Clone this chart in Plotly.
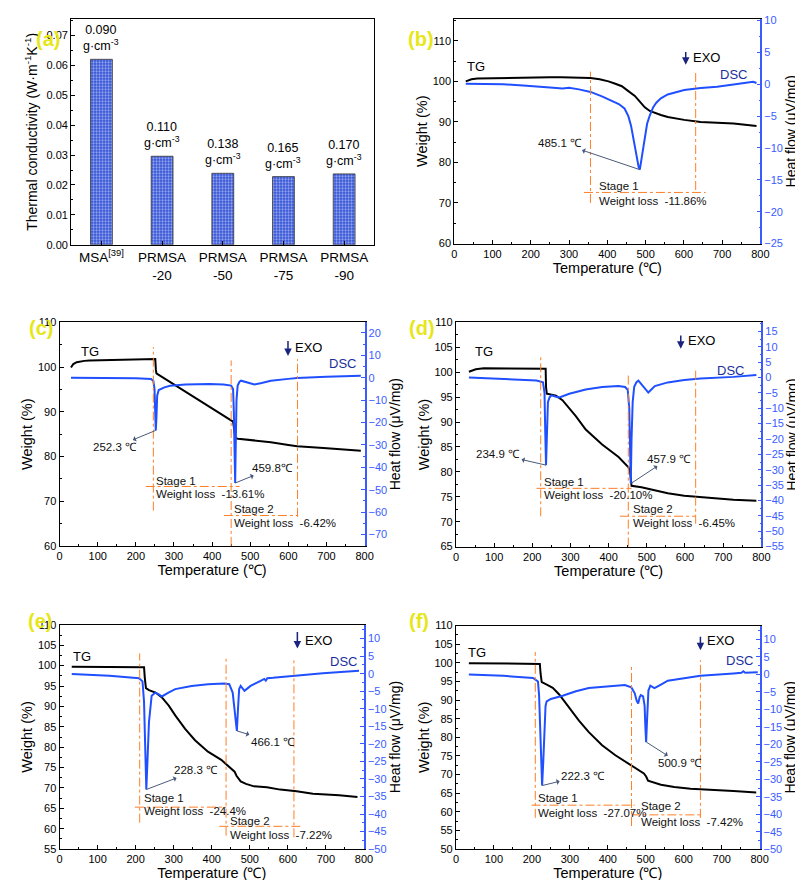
import plotly.graph_objects as go

FONT = "Liberation Sans, Arial, sans-serif"
BLUE = "#1f4fff"
AXBLUE = "#3a5cff"
ORANGE = "#ff7f27"
YELLOW = "#e6e619"
W_PX, H_PX = 803, 880

# ---------------- Panel (a) data ----------------
cats_a = ["MSA<sup>[39]</sup>", "PRMSA<br>-20", "PRMSA<br>-50", "PRMSA<br>-75", "PRMSA<br>-90"]
tc_a = [0.0620, 0.0296, 0.0239, 0.0228, 0.0237]
density_a = ["0.090", "0.110", "0.138", "0.165", "0.170"]

# ---------------- Panel (b) data ----------------
T_tg_b = [30, 45, 60, 100, 150, 200, 250, 280, 320, 356, 380, 403, 421, 438, 455, 472, 485, 498, 511, 524, 540, 558, 580, 601, 644, 690, 730, 760, 790]
W_tg_b = [100.0, 100.5, 100.7, 100.8, 100.8, 100.9, 101.0, 101.0, 100.9, 100.8, 100.5, 100.0, 99.4, 98.8, 97.6, 96.4, 95.0, 93.6, 92.7, 92.2, 91.7, 91.2, 90.8, 90.5, 90.0, 89.8, 89.6, 89.3, 89.0]
T_dsc_b = [30, 80, 129, 180, 215, 250, 283, 300, 326, 356, 386, 410, 430, 445, 455, 462, 468, 476, 482, 485, 489, 494, 498, 504, 511, 520, 528, 540, 558, 580, 601, 644, 687, 730, 760, 781, 790]
H_dsc_b = [0.1, 0.1, 0.0, -0.2, -0.3, -0.5, -0.65, -0.55, -0.8, -1.2, -1.9, -2.5, -3.1, -3.8, -5.0, -6.5, -8.5, -11.1, -13.0, -13.4, -11.8, -9.8, -8.0, -6.2, -4.9, -3.6, -2.9, -2.2, -1.6, -1.2, -0.9, -0.6, -0.4, -0.05, 0.2, 0.4, 0.2]
peakT_b = [485.1]
peakX_b = [485]
peakH_b = [-13.4]
stages_b = [356, 631]
loss_b = ["-11.86%"]

# ---------------- Panel (c) data ----------------
T_tg_c = [30, 36, 45, 53, 65, 79, 131, 200, 245, 251, 252.5, 254, 258, 280, 304, 338, 390, 433, 455, 458, 461, 468, 519, 554, 600, 623, 692, 740, 790]
W_tg_c = [99.9, 100.7, 101.1, 101.25, 101.4, 101.5, 101.6, 101.6, 101.7, 101.8, 99.5, 98.6, 98.4, 97.2, 95.9, 94.2, 91.3, 89.0, 87.8, 86.0, 84.1, 84.0, 83.6, 83.2, 82.6, 82.3, 81.9, 81.6, 81.3]
T_dsc_c = [30, 100, 200, 240, 246, 249, 251, 252.3, 254, 256, 260, 265, 275, 290, 330, 393, 430, 450, 455, 457, 459, 460.5, 462, 464, 467, 472, 476, 490, 511, 530, 554, 600, 623, 700, 790]
H_dsc_c = [0.0, 0.0, -0.2, -0.6, -1.5, -5.0, -15.0, -23.5, -18.0, -8.0, -5.5, -5.0, -4.3, -3.6, -3.0, -2.8, -3.0, -3.5, -5.0, -15.0, -35.0, -47.0, -30.0, -10.0, -3.5, -1.8, -1.3, -2.0, -3.0, -2.3, -1.3, -0.5, -0.1, 0.4, 0.9]
peakT_c = [252.3, 459.8]
peakX_c = [252.3, 460.5]
peakH_c = [-23.5, -47.0]
stages_c = [246, 450, 624]
loss_c = ["-13.61%", "-6.42%"]

# ---------------- Panel (d) data ----------------
T_tg_d = [34, 52, 73, 150, 230, 235, 236, 238, 245, 262, 279, 297, 314, 340, 383, 426, 452, 456, 458, 460, 486, 520, 555, 598, 641, 684, 727, 787]
W_tg_d = [100.1, 100.6, 100.8, 100.8, 100.8, 100.7, 97.0, 95.7, 95.6, 95.3, 94.4, 92.8, 91.2, 88.5, 85.5, 83.0, 80.9, 80.3, 78.0, 77.2, 76.9, 76.3, 75.7, 75.2, 74.9, 74.7, 74.4, 74.2]
T_dsc_d = [34, 124, 211, 228, 232, 234, 236, 238, 241, 245, 250, 260, 271, 297, 340, 383, 426, 443, 450, 454, 456, 458, 460, 463, 467, 473, 478, 491, 504, 521, 555, 598, 641, 727, 787]
H_dsc_d = [0.0, -0.5, -1.0, -1.6, -5.0, -18.0, -28.5, -20.0, -8.0, -6.5, -5.8, -6.2, -6.5, -5.3, -3.9, -3.1, -2.8, -3.1, -4.0, -10.0, -25.0, -34.5, -20.0, -8.0, -3.0, -1.5, -1.0, -3.1, -4.9, -2.8, -1.6, -0.8, -0.3, 0.2, 0.8]
peakT_d = [234.9, 457.9]
peakX_d = [236, 458]
peakH_d = [-28.5, -34.5]
stages_d = [222, 451.5, 628]
loss_d = ["-20.10%", "-6.45%"]

# ---------------- Panel (e) data ----------------
T_tg_e = [32, 100, 200, 222, 224, 227, 235, 252, 269, 287, 304, 330, 356, 390, 425, 447, 460, 465, 470, 476, 490, 511, 545, 580, 623, 666, 735, 783]
W_tg_e = [99.75, 99.7, 99.7, 99.6, 97.0, 94.5, 94.0, 93.4, 92.2, 90.2, 87.8, 84.5, 81.7, 78.9, 76.9, 75.2, 74.0, 73.0, 72.2, 71.6, 71.0, 70.4, 70.2, 69.6, 69.2, 68.6, 68.2, 67.8]
T_dsc_e = [32, 131, 209, 218, 222, 225, 228, 231, 235, 242, 252, 262, 269, 285, 304, 347, 390, 433, 446, 455, 460, 463, 466, 469, 472, 476, 481, 486, 494, 502, 527, 538, 542, 546, 561, 622, 692, 787]
H_dsc_e = [-0.1, -0.6, -1.3, -2.2, -8.0, -25.0, -33.0, -25.0, -13.8, -6.3, -5.4, -6.0, -6.5, -5.5, -4.4, -3.5, -3.0, -2.8, -3.0, -5.4, -11.0, -15.0, -16.3, -10.0, -4.4, -3.5, -4.2, -4.9, -4.2, -3.5, -2.1, -1.5, -2.0, -1.3, -1.2, -0.6, 0.1, 0.8]
peakT_e = [228.3, 466.1]
peakX_e = [228, 466]
peakH_e = [-33.0, -16.3]
stages_e = [210.6, 437.6, 616]
loss_e = ["-24.4%", "-7.22%"]

# ---------------- Panel (f) data ----------------
T_tg_f = [34, 100, 200, 221, 223, 226, 238, 255, 272, 298, 324, 350, 385, 420, 454, 480, 495, 501, 506, 540, 575, 618, 662, 731, 791]
W_tg_f = [99.9, 99.8, 99.8, 99.7, 97.0, 94.8, 94.2, 93.3, 91.5, 88.0, 84.5, 81.4, 77.9, 75.2, 73.0, 71.3, 70.3, 69.5, 68.4, 67.3, 66.7, 66.2, 66.0, 65.6, 65.2]
T_dsc_f = [34, 125, 203, 216, 219, 221, 224, 227, 230, 233, 236, 239, 250, 281, 316, 350, 402, 445, 462, 471, 476, 480, 484, 487, 493, 497, 499, 501, 503, 505, 507, 512, 523, 540, 558, 601, 644, 731, 752, 757, 762, 795]
H_dsc_f = [0.0, -0.4, -1.0, -2.0, -6.0, -12.0, -25.0, -31.8, -25.0, -13.8, -9.0, -7.7, -7.0, -6.1, -4.8, -3.9, -3.3, -3.0, -3.7, -5.4, -7.5, -8.3, -6.5, -5.9, -6.3, -9.0, -15.0, -19.4, -14.0, -7.0, -4.6, -3.2, -3.9, -2.9, -1.8, -1.1, -0.4, 0.3, 0.5, 0.9, 0.5, 0.6]
peakT_f = [222.3, 500.9]
peakX_f = [227, 502]
peakH_f = [-31.8, -19.4]
stages_f = [209, 462.5, 644]
loss_f = ["-27.07%", "-7.42%"]

# ---------------- helpers ----------------
def dom_x(l, r):
    return [l / W_PX, r / W_PX]

def dom_y(t, b):
    return [1 - b / H_PX, 1 - t / H_PX]

def px(x, y):
    return x / W_PX, 1 - y / H_PX

fig = go.Figure()
annotations = []
shapes = []
layout = {}

tickfont = dict(family=FONT, size=11, color="black")
base_axis = dict(showline=True, linecolor="black", linewidth=1, ticks="inside", ticklen=4,
                 tickwidth=1, tickcolor="black", showgrid=False, zeroline=False, tickfont=tickfont)

# ---------------- Panel (a) ----------------
fig.add_trace(go.Bar(
    x=cats_a, y=tc_a, xaxis="x", yaxis="y", width=0.36, showlegend=False,
    marker=dict(color="#2f4fd6", line=dict(color="#333333", width=0.8),
                pattern=dict(shape=".", fgcolor="white", bgcolor="#2f4fd6", size=3, solidity=0.45)),
))
layout["xaxis"] = dict(base_axis, domain=dom_x(61, 369), anchor="y", mirror=True,
                       tickfont=dict(family=FONT, size=13.5, color="black"), ticklen=4)
layout["yaxis"] = dict(base_axis, domain=dom_y(5, 234), anchor="x", mirror=True, range=[0, 0.0755],
                       dtick=0.01, tick0=0, tickformat=".2f",
                       minor=dict(ticks="inside", ticklen=2, dtick=0.005, tickcolor="black"),
                       title=dict(text="Thermal conductivity (W·m<sup>-1</sup>K<sup>-1</sup>)",
                                  font=dict(family=FONT, size=14, color="black"), standoff=5))
for c, v, d in zip(cats_a, tc_a, density_a):
    annotations.append(dict(x=c, y=v, xref="x", yref="y", yanchor="bottom", yshift=4, showarrow=False,
                            text=f"{d}<br>g·cm<sup>-3</sup>", font=dict(family=FONT, size=12.5, color="black")))

# ---------------- TG/DSC panels ----------------
panels = [
    dict(idx=2, ridx=7, xd=(450, 760.7), yd=(5, 232.7), yl=(60, 115.4), ldt=10, yr=(-25, 10.26), rdt=5,
         tg=(T_tg_b, W_tg_b), dsc=(T_dsc_b, H_dsc_b), pk=(peakT_b, peakX_b, peakH_b), st=stages_b, loss=loss_b,
         vl=[(70.0, 102.4), (73.2, 102.4)], hl=[(72.6, 339, 657)],
         txt=[(373, 74.2, 70.4)], tg_lab=(56, 103.6), dsc_lab=(730, 101.8), exo=(605, 107.6, 104.1, 618, 106.0),
         off=[(-80, -27, " ")]),
    dict(idx=3, ridx=8, xd=(49.3, 359), yd=(312.7, 539.3), yl=(60, 110), ldt=10, yr=(-75.1, 24.7), rdt=10,
         tg=(T_tg_c, W_tg_c), dsc=(T_dsc_c, H_dsc_c), pk=(peakT_c, peakX_c, peakH_c), st=stages_c, loss=loss_c,
         vl=[(67.9, 104.5), (60, 101.5), (66.5, 101.8)], hl=[(73.3, 226, 472), (66.8, 431, 623)],
         txt=[(248, 74.6, 71.6), (452, 68.2, 65.1)], tg_lab=(80, 103.6), dsc_lab=(741, 100.9),
         exo=(599, 106.2, 102.5, 612, 104.5), off=[(-41, 17, " "), (37, -15, "")]),
    dict(idx=4, ridx=9, xd=(451.7, 761.7), yd=(312.7, 540), yl=(65, 110), ldt=5, yr=(-55, 17.9), rdt=5,
         tg=(T_tg_d, W_tg_d), dsc=(T_dsc_d, H_dsc_d), pk=(peakT_d, peakX_d, peakH_d), st=stages_d, loss=loss_d,
         vl=[(71.1, 103.3), (65, 99.7), (69.6, 100.4)], hl=[(76.7, 211, 460), (71.1, 430, 628)],
         txt=[(226, 78.0, 75.3), (458, 72.5, 69.7)], tg_lab=(74, 104.1), dsc_lab=(719, 100.4),
         exo=(589, 107.7, 104.7, 602, 106.4), off=[(-48, -11, " "), (38, -25, " ")]),
    dict(idx=5, ridx=10, xd=(49.3, 358.3), yd=(619.3, 846.7), yl=(55, 110), ldt=5, yr=(-50, 13.9), rdt=5,
         tg=(T_tg_e, W_tg_e), dsc=(T_dsc_e, H_dsc_e), pk=(peakT_e, peakX_e, peakH_e), st=stages_e, loss=loss_e,
         vl=[(61.5, 103.0), (58.3, 102.2), (57.9, 101.8)], hl=[(65.3, 198, 438), (60.6, 420, 636)],
         txt=[(216, 67.5, 64.3), (442, 61.9, 58.5)], tg_lab=(60, 102.2), dsc_lab=(746, 101.0),
         exo=(625, 108.6, 104.2, 639, 106.2), off=[(50, -19, " "), (36, 11, " ")]),
    dict(idx=6, ridx=11, xd=(451.7, 760), yd=(620, 846.7), yl=(50, 110), ldt=5, yr=(-50, 14.0), rdt=5,
         tg=(T_tg_f, W_tg_f), dsc=(T_dsc_f, H_dsc_f), pk=(peakT_f, peakX_f, peakH_f), st=stages_f, loss=loss_f,
         vl=[(58.4, 102.9), (56.2, 98.9), (58.4, 100.7)], hl=[(61.8, 199, 471), (59.2, 462, 648)],
         txt=[(210, 63.7, 59.7), (482, 61.7, 57.3)], tg_lab=(56, 102.9), dsc_lab=(746, 100.7),
         exo=(644, 107.4, 103.4, 657, 106.0), off=[(41, -10, " "), (33, 21, " ")]),
]

afont = dict(family=FONT, size=11.5, color="#111111")
for p in panels:
    i, r = p["idx"], p["ridx"]
    xa, ya, yra = f"x{i}", f"y{i}", f"y{r}"
    fig.add_trace(go.Scatter(x=p["tg"][0], y=p["tg"][1], mode="lines", xaxis=xa, yaxis=ya,
                             line=dict(color="black", width=2), showlegend=False))
    fig.add_trace(go.Scatter(x=p["dsc"][0], y=p["dsc"][1], mode="lines", xaxis=xa, yaxis=yra,
                             line=dict(color=BLUE, width=2), showlegend=False))
    layout[f"xaxis{i}"] = dict(base_axis, domain=dom_x(*p["xd"]), anchor=ya, mirror=True, range=[0, 800],
                               dtick=100, tick0=0,
                               minor=dict(ticks="inside", ticklen=2, dtick=50, tickcolor="black"),
                               title=dict(text="Temperature (℃)", font=dict(family=FONT, size=14.5, color="black"),
                                          standoff=0))
    layout[f"yaxis{i}"] = dict(base_axis, domain=dom_y(*p["yd"]), anchor=xa, range=list(p["yl"]),
                               dtick=p["ldt"], tick0=0,
                               minor=dict(ticks="inside", ticklen=2, dtick=p["ldt"] / 2, tickcolor="black"),
                               title=dict(text="Weight (%)", font=dict(family=FONT, size=14.5, color="black"),
                                          standoff=1))
    layout[f"yaxis{r}"] = dict(base_axis, overlaying=ya, side="right", anchor=xa, range=list(p["yr"]),
                               dtick=p["rdt"], tick0=0, linecolor=AXBLUE, tickcolor=AXBLUE, linewidth=1.5,
                               tickfont=dict(family=FONT, size=11, color=AXBLUE),
                               minor=dict(ticks="inside", ticklen=2, dtick=p["rdt"] / 2, tickcolor=AXBLUE),
                               title=dict(text="Heat flow (μV/mg)", font=dict(family=FONT, size=14, color="black"),
                                          standoff=0))
    # stage boundary lines
    for t, (y0, y1) in zip(p["st"], p["vl"]):
        shapes.append(dict(type="line", xref=xa, yref=ya, x0=t, x1=t, y0=y0, y1=y1,
                           line=dict(color=ORANGE, width=1, dash="dashdot")))
    for (yy, x0, x1) in p["hl"]:
        shapes.append(dict(type="line", xref=xa, yref=ya, x0=x0, x1=x1, y0=yy, y1=yy,
                           line=dict(color=ORANGE, width=1, dash="dashdot")))
    # stage texts
    for k, ((tx, ys, yw), lv) in enumerate(zip(p["txt"], p["loss"])):
        annotations.append(dict(x=tx, y=ys, xref=xa, yref=ya, xanchor="left", showarrow=False,
                                text=f"Stage {k+1}", font=afont))
        annotations.append(dict(x=tx, y=yw, xref=xa, yref=ya, xanchor="left", showarrow=False,
                                text=f"Weight loss\u00a0 {lv}", font=afont))
    # TG / DSC labels
    annotations.append(dict(x=p["tg_lab"][0], y=p["tg_lab"][1], xref=xa, yref=ya, showarrow=False,
                            text="TG", font=dict(family=FONT, size=13, color="black")))
    annotations.append(dict(x=p["dsc_lab"][0], y=p["dsc_lab"][1], xref=xa, yref=ya, showarrow=False,
                            text="DSC", font=dict(family=FONT, size=13, color="#1a2f9a")))
    # EXO arrow
    ex, ey0, ey1, etx, ety = p["exo"]
    annotations.append(dict(x=ex, y=ey1, ax=ex, ay=ey0, xref=xa, yref=ya, axref=xa, ayref=ya, text="",
                            showarrow=True, arrowhead=2, arrowsize=1, arrowwidth=1.5, arrowcolor="#1a237e"))
    annotations.append(dict(x=etx, y=ety, xref=xa, yref=ya, xanchor="left", showarrow=False, text="EXO",
                            font=dict(family=FONT, size=13, color="black")))
    # peak labels
    for (pt, pxv, ph, (oax, oay, sp)) in zip(p["pk"][0], p["pk"][1], p["pk"][2], p["off"]):
        annotations.append(dict(x=pxv, y=ph, xref=xa, yref=yra, ax=oax, ay=oay, showarrow=True,
                                arrowside="start", arrowhead=2, arrowsize=1, arrowwidth=1,
                                arrowcolor="#4a5a7a", text=f"{pt:.1f}{sp}℃", font=afont))

# panel letters
for lab, (cx, cy) in zip(["a", "b", "c", "d", "e", "f"],
                         [(23, 12), (416, 12), (16, 318), (417, 318), (15, 629), (414, 629)]):
    x, y = px(cx, cy)
    annotations.append(dict(x=x, y=y, xref="paper", yref="paper", showarrow=False,
                            text=f"<b>({lab})</b>", font=dict(family=FONT, size=20, color=YELLOW)))

fig.update_layout(
    width=W_PX, height=H_PX, margin=dict(l=0, r=0, t=0, b=0),
    paper_bgcolor="white", plot_bgcolor="white",
    font=dict(family=FONT, color="black"),
    annotations=annotations, shapes=shapes, showlegend=False, bargap=0.6,
    **layout,
)

fig.write_html("out.html")
